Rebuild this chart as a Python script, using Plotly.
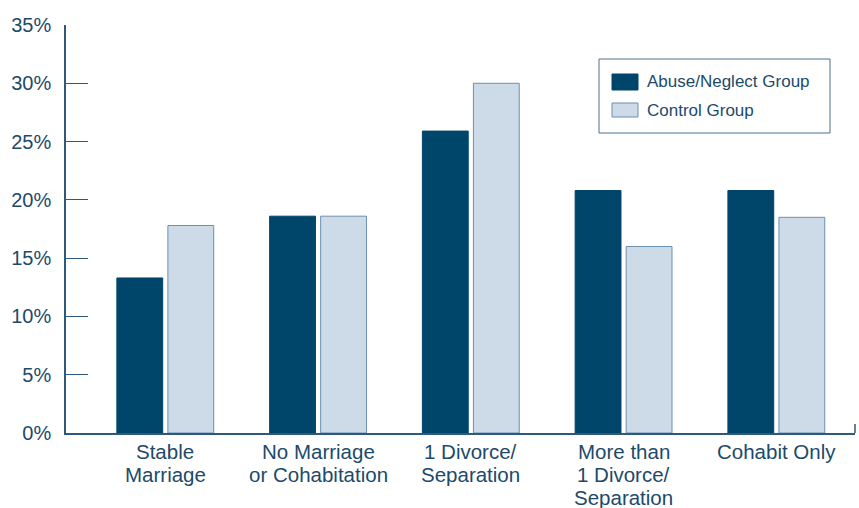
import plotly.graph_objects as go

# Family structure outcomes, share of each group (%)
categories = [
    ["Stable", "Marriage"],
    ["No Marriage", "or Cohabitation"],
    ["1 Divorce/", "Separation"],
    ["More than", "1 Divorce/", "Separation"],
    ["Cohabit Only"],
]
abuse_neglect = [13.3, 18.6, 25.9, 20.8, 20.8]
control = [17.8, 18.6, 30.0, 16.0, 18.5]
y_ticks = [0, 5, 10, 15, 20, 25, 30, 35]
y_tick_labels = [f"{v}%" for v in y_ticks]

DARK = "#00456a"
LIGHT = "#ccdbe7"
LIGHT_EDGE = "#6b91b0"
TEXT = "#1c4a6a"
AXIS = "#2d5a7a"
FONT = "Liberation Sans, Arial, sans-serif"

W, H = 859, 508
ML, MR, MT, MB = 66, 4, 25, 75
PW, PH = W - ML - MR, H - MT - MB


def px_x(p):
    return (p - ML) / PW


def px_y(p):
    return (H - MB - p) / PH


x_pos = list(range(len(categories)))

fig = go.Figure()
fig.add_trace(go.Bar(
    x=x_pos, y=abuse_neglect, name="Abuse/Neglect Group",
    width=0.30, offset=-0.318,
    marker=dict(color=DARK, line=dict(color=DARK, width=1)),
    showlegend=False,
))
fig.add_trace(go.Bar(
    x=x_pos, y=control, name="Control Group",
    width=0.30, offset=0.016,
    marker=dict(color=LIGHT, line=dict(color=LIGHT_EDGE, width=1)),
    showlegend=False,
))

shapes = []
annotations = []

# closing tick at the right end of the category axis
shapes.append(dict(type="line", xref="paper", yref="paper",
                   x0=1, x1=1, y0=0, y1=px_y(424),
                   line=dict(color=AXIS, width=1.5)))

# category labels, one line at a time (tight line spacing)
LINE_TOP = 451
LINE_STEP = 23.5
for i, lines in enumerate(categories):
    for j, line in enumerate(lines):
        annotations.append(dict(xref="x", yref="paper", x=i,
                                y=px_y(LINE_TOP + j * LINE_STEP), text=line,
                                showarrow=False, xanchor="center", yanchor="middle",
                                font=dict(family=FONT, size=20.5, color=TEXT)))

# legend box
shapes.append(dict(type="rect", xref="paper", yref="paper",
                   x0=px_x(599), x1=px_x(830), y0=px_y(133), y1=px_y(59),
                   line=dict(color="#4d6f8a", width=1), fillcolor="white"))
legend_items = [("Abuse/Neglect Group", DARK, DARK, 74, 90),
                ("Control Group", LIGHT, LIGHT_EDGE, 103, 117)]
for label, fill, edge, top, bottom in legend_items:
    shapes.append(dict(type="rect", xref="paper", yref="paper",
                       x0=px_x(612), x1=px_x(638), y0=px_y(bottom), y1=px_y(top),
                       fillcolor=fill, line=dict(color=edge, width=1)))
    annotations.append(dict(xref="paper", yref="paper", x=px_x(645),
                            y=px_y((top + bottom) / 2), text=label,
                            showarrow=False, xanchor="left", yanchor="middle",
                            font=dict(family=FONT, size=17, color=TEXT)))

fig.update_layout(
    width=W, height=H,
    margin=dict(l=ML, r=MR, t=MT, b=MB, pad=0),
    paper_bgcolor="white", plot_bgcolor="white",
    barmode="overlay",
    shapes=shapes, annotations=annotations,
    font=dict(family=FONT, color=TEXT),
    xaxis=dict(
        range=[-0.651, 4.514],
        tickmode="array", tickvals=x_pos, showticklabels=False,
        showgrid=False, zeroline=False, ticks="", ticklen=0,
        showline=True, linecolor=AXIS, linewidth=1.5,
        automargin=False,
        fixedrange=True,
    ),
    yaxis=dict(
        range=[0, 35],
        tickmode="array", tickvals=y_ticks, ticktext=y_tick_labels,
        showgrid=False, zeroline=False,
        ticks="inside", ticklen=22, tickwidth=1.2, tickcolor=AXIS,
        showline=True, linecolor=AXIS, linewidth=1.5,
        tickfont=dict(family=FONT, size=20, color=TEXT),
        ticklabelstandoff=9,
        automargin=False,
        fixedrange=True,
    ),
)

fig.write_html("out.html")
